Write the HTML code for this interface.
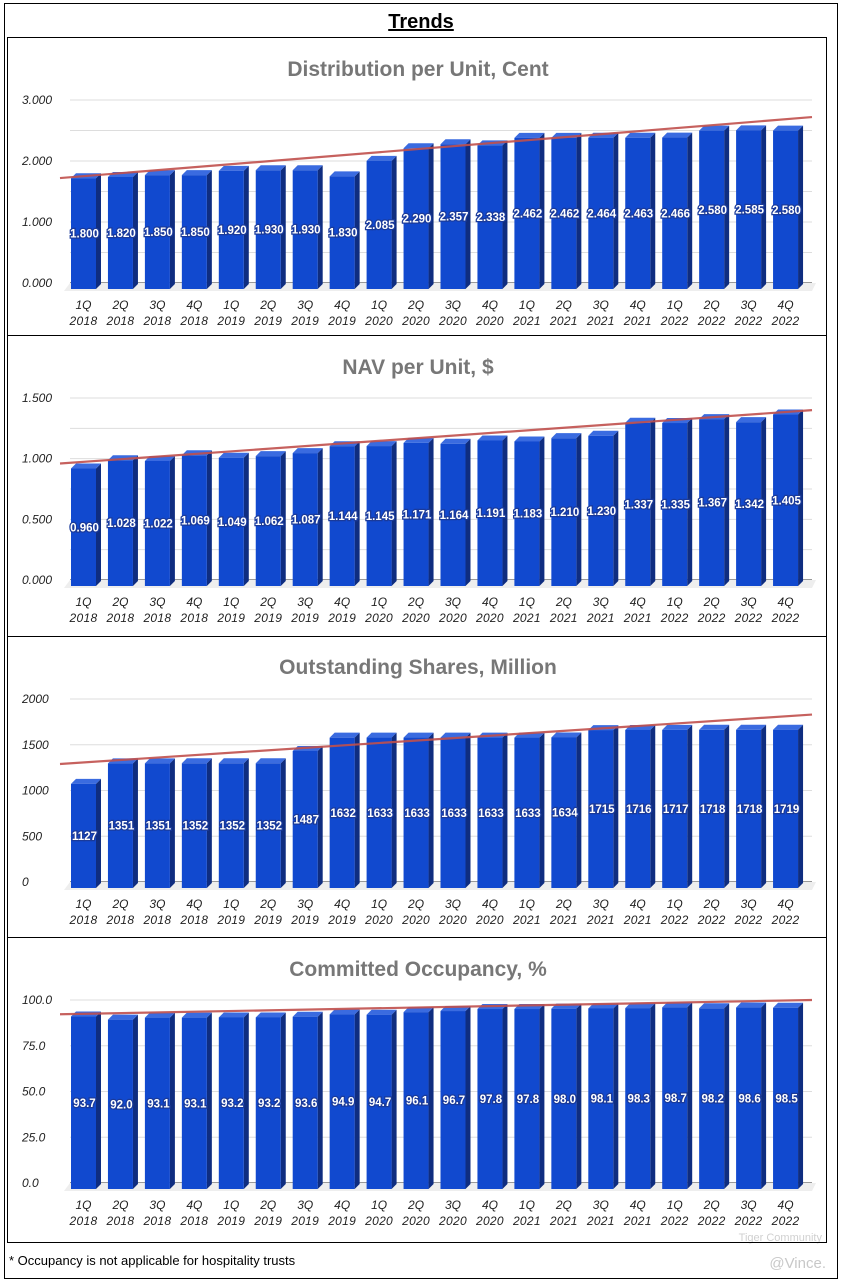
<!DOCTYPE html>
<html><head><meta charset="utf-8"><style>
body{margin:0;background:#fff;width:841px;height:1283px;overflow:hidden}
svg{display:block;font-family:"Liberation Sans",Arial,sans-serif}
</style></head><body>
<svg id="s" width="841" height="1283">
<rect x="4.5" y="3.5" width="833" height="1275" fill="none" stroke="#000"/>
<text x="421" y="28" text-anchor="middle" font-size="20" font-weight="bold" text-decoration="underline">Trends</text>
<text x="9" y="1265" font-size="13">* Occupancy is not applicable for hospitality trusts</text>
<text x="826" y="1268" text-anchor="end" font-size="15" fill="#c8c8c8">@Vince.</text>
<text x="822" y="1241" text-anchor="end" font-size="11" fill="#d0d0d0">Tiger Community</text>
</svg>
<script>
const categories=["1Q 2018","2Q 2018","3Q 2018","4Q 2018","1Q 2019","2Q 2019","3Q 2019","4Q 2019","1Q 2020","2Q 2020","3Q 2020","4Q 2020","1Q 2021","2Q 2021","3Q 2021","4Q 2021","1Q 2022","2Q 2022","3Q 2022","4Q 2022"];
const dpuValues=[1.800,1.820,1.850,1.850,1.920,1.930,1.930,1.830,2.085,2.290,2.357,2.338,2.462,2.462,2.464,2.463,2.466,2.580,2.585,2.580];
const navValues=[0.960,1.028,1.022,1.069,1.049,1.062,1.087,1.144,1.145,1.171,1.164,1.191,1.183,1.210,1.230,1.337,1.335,1.367,1.342,1.405];
const sharesValues=[1127,1351,1351,1352,1352,1352,1487,1632,1633,1633,1633,1633,1633,1634,1715,1716,1717,1718,1718,1719];
const occValues=[93.7,92.0,93.1,93.1,93.2,93.2,93.6,94.9,94.7,96.1,96.7,97.8,97.8,98.0,98.1,98.3,98.7,98.2,98.6,98.5];
const dpuTicks=["0.000","1.000","2.000","3.000"];
const navTicks=["0.000","0.500","1.000","1.500"];
const sharesTicks=["0","500","1000","1500","2000"];
const occTicks=["0.0","25.0","50.0","75.0","100.0"];
const dpuTrend=[1.72,2.72];const navTrend=[0.96,1.40];const sharesTrend=[1290,1830];const occTrend=[92.2,100.0];
const NS="http://www.w3.org/2000/svg";const svg=document.getElementById('s');
function el(t,a,p){const e=document.createElementNS(NS,t);for(const k in a)e.setAttribute(k,a[k]);(p||svg).appendChild(e);return e;}
const panels=[
 {top:37,bot:335,title:"Distribution per Unit, Cent",ty:76,y0:283,y1:100,max:3,vals:dpuValues,ticks:dpuTicks,trend:dpuTrend,fmt:v=>v.toFixed(3),minor:6,name:'dpu'},
 {top:335,bot:636,title:"NAV per Unit, $",ty:374,y0:580,y1:398,max:1.5,vals:navValues,ticks:navTicks,trend:navTrend,fmt:v=>v.toFixed(3),minor:6,name:'nav'},
 {top:636,bot:937,title:"Outstanding Shares, Million",ty:674,y0:882,y1:699,max:2000,vals:sharesValues,ticks:sharesTicks,trend:sharesTrend,fmt:v=>String(v),minor:4,name:'shares'},
 {top:937,bot:1242,title:"Committed Occupancy, %",ty:976,y0:1183,y1:1000,max:100,vals:occValues,ticks:occTicks,trend:occTrend,fmt:v=>v.toFixed(1),minor:4,name:'occupancy'}];
const n=categories.length,x0=71,pitch=36.95,bw=25,dep=5;
panels.forEach(p=>{
 const g=el('g',{});
 
 
 const r=el('rect',{x:7.5,y:p.top+0.5,width:819,height:p.bot-p.top,fill:'none',stroke:'#000'},g);
 
 
 const t=el('text',{x:418,y:p.ty,'text-anchor':'middle','font-size':21,'font-weight':'bold',fill:'#777'},g);t.textContent=p.title;
 
 
 const Y=v=>p.y0-(v/p.max)*(p.y0-p.y1);
 const X=i=>x0+i*pitch;
 for(let k=0;k<=p.minor;k++){const yy=p.y1+k*(p.y0-p.y1)/p.minor;el('line',{x1:70,x2:812,y1:yy,y2:yy,stroke:k==p.minor?'#333':'#ddd','stroke-width':1},g);}
 el('polygon',{points:`${64},${p.y0+8} ${812},${p.y0+8} ${816},${p.y0} ${70},${p.y0}`,fill:'#eee'},g);
 p.ticks.forEach((tk,k)=>{const yy=p.y0-k*(p.y0-p.y1)/(p.ticks.length-1);const tt=el('text',{x:22,y:yy+4,'font-size':12,'font-style':'italic',fill:'#222'},g);tt.textContent=tk;
 
 });
 for(let i=0;i<n;i++){
  const v=p.vals[i],x=X(i),yt=Y(v)+dep,yb=p.y0+6;
  const b=el('g',{},g);
  
  
  el('polygon',{points:`${x+bw},${yt} ${x+bw+dep},${yt-dep} ${x+bw+dep},${yb-dep} ${x+bw},${yb}`,fill:'#0f2d80'},b);
  el('polygon',{points:`${x},${yt} ${x+dep},${yt-dep} ${x+bw+dep},${yt-dep} ${x+bw},${yt}`,fill:'#3a6be0'},b);
  el('rect',{x:x,y:yt,width:bw,height:yb-yt,fill:'#1149cf'},b);
  const lb=el('text',{x:x+bw/2+1,y:(yt+yb)/2+4,'text-anchor':'middle','font-size':11.5,'font-weight':'bold',fill:'#fff',stroke:'#1a3a9a','stroke-width':2.5,'paint-order':'stroke'},b);lb.textContent=p.fmt(v);
  
  
  const [q,yr]=categories[i].split(' ');
  const c1=el('text',{x:x+bw/2,y:p.y0+26,'text-anchor':'middle','font-size':12,'font-style':'italic',fill:'#222'},g);c1.textContent=q;
  
  
  const c2=el('text',{x:x+bw/2,y:p.y0+42,'text-anchor':'middle','font-size':12,'font-style':'italic',fill:'#222','letter-spacing':'0.3'},g);c2.textContent=yr;
  
  
 }
 const tl=el('line',{x1:60,x2:812,y1:Y(p.trend[0]),y2:Y(p.trend[1]),stroke:'#c0504d','stroke-width':2.2,opacity:0.9},g);
 
 
});
</script>
</body></html>
